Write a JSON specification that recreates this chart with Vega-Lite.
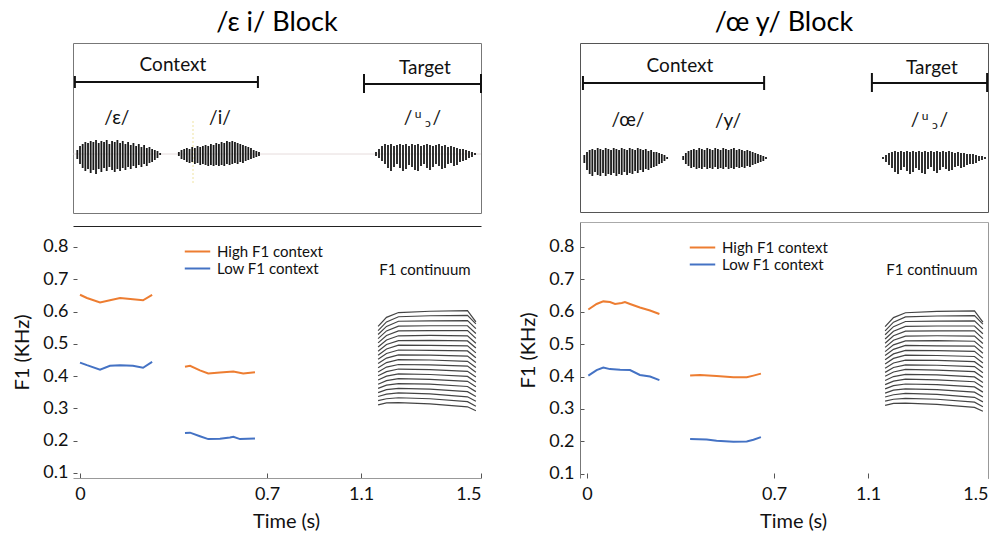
{
  "$schema": "https://vega.github.io/schema/vega-lite/v6.json",
  "padding": {"left": 12, "top": 8, "right": 0, "bottom": 0},
  "config": {
    "font": "Lato",
    "view": {"stroke": null},
    "axis": {"labelFont": "Lato", "titleFont": "Lato", "labelFontSize": 18, "titleFontSize": 20, "titleFontWeight": "normal", "labelColor": "#111", "titleColor": "#111", "grid": false, "tickColor": "#555", "domainColor": "#888"},
    "title": {"font": "Lato", "fontSize": 27, "fontWeight": "normal", "color": "#000"},
    "legend": {"labelFont": "Lato", "labelFontSize": 15, "labelColor": "#111"}
  },
  "datasets": {
    "curves": [
      {"b":"L","ctx":"High F1 context","seg":"a","t":0.0,"f":0.652},
      {"b":"L","ctx":"High F1 context","seg":"a","t":0.026,"f":0.642},
      {"b":"L","ctx":"High F1 context","seg":"a","t":0.075,"f":0.628},
      {"b":"L","ctx":"High F1 context","seg":"a","t":0.112,"f":0.635},
      {"b":"L","ctx":"High F1 context","seg":"a","t":0.15,"f":0.642},
      {"b":"L","ctx":"High F1 context","seg":"a","t":0.198,"f":0.638},
      {"b":"L","ctx":"High F1 context","seg":"a","t":0.236,"f":0.635},
      {"b":"L","ctx":"High F1 context","seg":"a","t":0.27,"f":0.652},
      {"b":"L","ctx":"Low  F1 context","seg":"a","t":0.0,"f":0.442},
      {"b":"L","ctx":"Low  F1 context","seg":"a","t":0.026,"f":0.434},
      {"b":"L","ctx":"Low  F1 context","seg":"a","t":0.075,"f":0.42},
      {"b":"L","ctx":"Low  F1 context","seg":"a","t":0.112,"f":0.432},
      {"b":"L","ctx":"Low  F1 context","seg":"a","t":0.15,"f":0.434},
      {"b":"L","ctx":"Low  F1 context","seg":"a","t":0.198,"f":0.432},
      {"b":"L","ctx":"Low  F1 context","seg":"a","t":0.236,"f":0.426},
      {"b":"L","ctx":"Low  F1 context","seg":"a","t":0.27,"f":0.444},
      {"b":"L","ctx":"High F1 context","seg":"b","t":0.393,"f":0.429},
      {"b":"L","ctx":"High F1 context","seg":"b","t":0.412,"f":0.432},
      {"b":"L","ctx":"High F1 context","seg":"b","t":0.449,"f":0.418},
      {"b":"L","ctx":"High F1 context","seg":"b","t":0.48,"f":0.408},
      {"b":"L","ctx":"High F1 context","seg":"b","t":0.524,"f":0.411},
      {"b":"L","ctx":"High F1 context","seg":"b","t":0.574,"f":0.414},
      {"b":"L","ctx":"High F1 context","seg":"b","t":0.611,"f":0.408},
      {"b":"L","ctx":"High F1 context","seg":"b","t":0.655,"f":0.412},
      {"b":"L","ctx":"Low  F1 context","seg":"b","t":0.393,"f":0.224},
      {"b":"L","ctx":"Low  F1 context","seg":"b","t":0.412,"f":0.225},
      {"b":"L","ctx":"Low  F1 context","seg":"b","t":0.449,"f":0.214},
      {"b":"L","ctx":"Low  F1 context","seg":"b","t":0.48,"f":0.205},
      {"b":"L","ctx":"Low  F1 context","seg":"b","t":0.524,"f":0.206},
      {"b":"L","ctx":"Low  F1 context","seg":"b","t":0.561,"f":0.21},
      {"b":"L","ctx":"Low  F1 context","seg":"b","t":0.574,"f":0.212},
      {"b":"L","ctx":"Low  F1 context","seg":"b","t":0.599,"f":0.205},
      {"b":"L","ctx":"Low  F1 context","seg":"b","t":0.655,"f":0.207},
      {"b":"R","ctx":"High F1 context","seg":"a","t":0.005,"f":0.607},
      {"b":"R","ctx":"High F1 context","seg":"a","t":0.036,"f":0.624},
      {"b":"R","ctx":"High F1 context","seg":"a","t":0.061,"f":0.632},
      {"b":"R","ctx":"High F1 context","seg":"a","t":0.086,"f":0.63},
      {"b":"R","ctx":"High F1 context","seg":"a","t":0.105,"f":0.624},
      {"b":"R","ctx":"High F1 context","seg":"a","t":0.13,"f":0.627},
      {"b":"R","ctx":"High F1 context","seg":"a","t":0.142,"f":0.63},
      {"b":"R","ctx":"High F1 context","seg":"a","t":0.161,"f":0.624},
      {"b":"R","ctx":"High F1 context","seg":"a","t":0.198,"f":0.613},
      {"b":"R","ctx":"High F1 context","seg":"a","t":0.236,"f":0.604},
      {"b":"R","ctx":"High F1 context","seg":"a","t":0.271,"f":0.593},
      {"b":"R","ctx":"Low  F1 context","seg":"a","t":0.005,"f":0.403},
      {"b":"R","ctx":"Low  F1 context","seg":"a","t":0.036,"f":0.42},
      {"b":"R","ctx":"Low  F1 context","seg":"a","t":0.061,"f":0.428},
      {"b":"R","ctx":"Low  F1 context","seg":"a","t":0.086,"f":0.423},
      {"b":"R","ctx":"Low  F1 context","seg":"a","t":0.124,"f":0.421},
      {"b":"R","ctx":"Low  F1 context","seg":"a","t":0.161,"f":0.42},
      {"b":"R","ctx":"Low  F1 context","seg":"a","t":0.198,"f":0.405},
      {"b":"R","ctx":"Low  F1 context","seg":"a","t":0.236,"f":0.4},
      {"b":"R","ctx":"Low  F1 context","seg":"a","t":0.271,"f":0.389},
      {"b":"R","ctx":"High F1 context","seg":"b","t":0.386,"f":0.403},
      {"b":"R","ctx":"High F1 context","seg":"b","t":0.423,"f":0.405},
      {"b":"R","ctx":"High F1 context","seg":"b","t":0.485,"f":0.402},
      {"b":"R","ctx":"High F1 context","seg":"b","t":0.548,"f":0.398},
      {"b":"R","ctx":"High F1 context","seg":"b","t":0.598,"f":0.398},
      {"b":"R","ctx":"High F1 context","seg":"b","t":0.623,"f":0.403},
      {"b":"R","ctx":"High F1 context","seg":"b","t":0.651,"f":0.409},
      {"b":"R","ctx":"Low  F1 context","seg":"b","t":0.386,"f":0.207},
      {"b":"R","ctx":"Low  F1 context","seg":"b","t":0.448,"f":0.206},
      {"b":"R","ctx":"Low  F1 context","seg":"b","t":0.485,"f":0.202},
      {"b":"R","ctx":"Low  F1 context","seg":"b","t":0.548,"f":0.199},
      {"b":"R","ctx":"Low  F1 context","seg":"b","t":0.598,"f":0.2},
      {"b":"R","ctx":"Low  F1 context","seg":"b","t":0.623,"f":0.205},
      {"b":"R","ctx":"Low  F1 context","seg":"b","t":0.651,"f":0.213}
    ],
    "continuum": [
      {"k":0,"t":1.157,"f":0.311},{"k":0,"t":1.185,"f":0.317},{"k":0,"t":1.225,"f":0.318},{"k":0,"t":1.33,"f":0.314},{"k":0,"t":1.455,"f":0.305},{"k":0,"t":1.483,"f":0.293},
      {"k":1,"t":1.157,"f":0.324},{"k":1,"t":1.185,"f":0.33},{"k":1,"t":1.225,"f":0.333},{"k":1,"t":1.33,"f":0.33},{"k":1,"t":1.455,"f":0.321},{"k":1,"t":1.483,"f":0.307},
      {"k":2,"t":1.157,"f":0.337},{"k":2,"t":1.185,"f":0.344},{"k":2,"t":1.225,"f":0.348},{"k":2,"t":1.33,"f":0.345},{"k":2,"t":1.455,"f":0.336},{"k":2,"t":1.483,"f":0.322},
      {"k":3,"t":1.157,"f":0.349},{"k":3,"t":1.185,"f":0.358},{"k":3,"t":1.225,"f":0.362},{"k":3,"t":1.33,"f":0.36},{"k":3,"t":1.455,"f":0.352},{"k":3,"t":1.483,"f":0.337},
      {"k":4,"t":1.157,"f":0.362},{"k":4,"t":1.185,"f":0.372},{"k":4,"t":1.225,"f":0.377},{"k":4,"t":1.33,"f":0.375},{"k":4,"t":1.455,"f":0.368},{"k":4,"t":1.483,"f":0.352},
      {"k":5,"t":1.157,"f":0.375},{"k":5,"t":1.185,"f":0.386},{"k":5,"t":1.225,"f":0.392},{"k":5,"t":1.33,"f":0.39},{"k":5,"t":1.455,"f":0.384},{"k":5,"t":1.483,"f":0.367},
      {"k":6,"t":1.157,"f":0.388},{"k":6,"t":1.185,"f":0.4},{"k":6,"t":1.225,"f":0.407},{"k":6,"t":1.33,"f":0.405},{"k":6,"t":1.455,"f":0.399},{"k":6,"t":1.483,"f":0.382},
      {"k":7,"t":1.157,"f":0.401},{"k":7,"t":1.185,"f":0.414},{"k":7,"t":1.225,"f":0.422},{"k":7,"t":1.33,"f":0.42},{"k":7,"t":1.455,"f":0.415},{"k":7,"t":1.483,"f":0.397},
      {"k":8,"t":1.157,"f":0.413},{"k":8,"t":1.185,"f":0.428},{"k":8,"t":1.225,"f":0.436},{"k":8,"t":1.33,"f":0.435},{"k":8,"t":1.455,"f":0.431},{"k":8,"t":1.483,"f":0.412},
      {"k":9,"t":1.157,"f":0.426},{"k":9,"t":1.185,"f":0.442},{"k":9,"t":1.225,"f":0.451},{"k":9,"t":1.33,"f":0.45},{"k":9,"t":1.455,"f":0.446},{"k":9,"t":1.483,"f":0.427},
      {"k":10,"t":1.157,"f":0.439},{"k":10,"t":1.185,"f":0.456},{"k":10,"t":1.225,"f":0.466},{"k":10,"t":1.33,"f":0.465},{"k":10,"t":1.455,"f":0.462},{"k":10,"t":1.483,"f":0.442},
      {"k":11,"t":1.157,"f":0.452},{"k":11,"t":1.185,"f":0.47},{"k":11,"t":1.225,"f":0.481},{"k":11,"t":1.33,"f":0.48},{"k":11,"t":1.455,"f":0.478},{"k":11,"t":1.483,"f":0.457},
      {"k":12,"t":1.157,"f":0.465},{"k":12,"t":1.185,"f":0.484},{"k":12,"t":1.225,"f":0.496},{"k":12,"t":1.33,"f":0.495},{"k":12,"t":1.455,"f":0.494},{"k":12,"t":1.483,"f":0.472},
      {"k":13,"t":1.157,"f":0.477},{"k":13,"t":1.185,"f":0.498},{"k":13,"t":1.225,"f":0.51},{"k":13,"t":1.33,"f":0.511},{"k":13,"t":1.455,"f":0.509},{"k":13,"t":1.483,"f":0.487},
      {"k":14,"t":1.157,"f":0.49},{"k":14,"t":1.185,"f":0.512},{"k":14,"t":1.225,"f":0.525},{"k":14,"t":1.33,"f":0.526},{"k":14,"t":1.455,"f":0.525},{"k":14,"t":1.483,"f":0.502},
      {"k":15,"t":1.157,"f":0.503},{"k":15,"t":1.185,"f":0.526},{"k":15,"t":1.225,"f":0.54},{"k":15,"t":1.33,"f":0.541},{"k":15,"t":1.455,"f":0.541},{"k":15,"t":1.483,"f":0.517},
      {"k":16,"t":1.157,"f":0.516},{"k":16,"t":1.185,"f":0.54},{"k":16,"t":1.225,"f":0.555},{"k":16,"t":1.33,"f":0.556},{"k":16,"t":1.455,"f":0.556},{"k":16,"t":1.483,"f":0.532},
      {"k":17,"t":1.157,"f":0.529},{"k":17,"t":1.185,"f":0.554},{"k":17,"t":1.225,"f":0.57},{"k":17,"t":1.33,"f":0.571},{"k":17,"t":1.455,"f":0.572},{"k":17,"t":1.483,"f":0.547},
      {"k":18,"t":1.157,"f":0.541},{"k":18,"t":1.185,"f":0.568},{"k":18,"t":1.225,"f":0.584},{"k":18,"t":1.33,"f":0.587},{"k":18,"t":1.455,"f":0.588},{"k":18,"t":1.483,"f":0.562},
      {"k":19,"t":1.157,"f":0.554},{"k":19,"t":1.185,"f":0.582},{"k":19,"t":1.225,"f":0.597},{"k":19,"t":1.33,"f":0.601},{"k":19,"t":1.455,"f":0.603},{"k":19,"t":1.483,"f":0.568}
    ],
    "wave": [
      {"b":"L","t":-0.01,"h":4,"l":-5},{"b":"L","t":0.0,"h":8,"l":-10},{"b":"L","t":0.01,"h":10,"l":-14},{"b":"L","t":0.02,"h":12,"l":-17},{"b":"L","t":0.03,"h":11,"l":-15},{"b":"L","t":0.04,"h":13,"l":-19},{"b":"L","t":0.05,"h":12,"l":-16},{"b":"L","t":0.06,"h":14,"l":-20},{"b":"L","t":0.07,"h":11,"l":-15},{"b":"L","t":0.08,"h":13,"l":-18},{"b":"L","t":0.09,"h":12,"l":-14},{"b":"L","t":0.1,"h":14,"l":-17},{"b":"L","t":0.11,"h":10,"l":-13},{"b":"L","t":0.12,"h":13,"l":-16},{"b":"L","t":0.13,"h":12,"l":-18},{"b":"L","t":0.14,"h":14,"l":-15},{"b":"L","t":0.15,"h":11,"l":-17},{"b":"L","t":0.16,"h":13,"l":-14},{"b":"L","t":0.17,"h":10,"l":-16},{"b":"L","t":0.18,"h":12,"l":-13},{"b":"L","t":0.19,"h":9,"l":-15},{"b":"L","t":0.2,"h":11,"l":-12},{"b":"L","t":0.21,"h":8,"l":-14},{"b":"L","t":0.22,"h":10,"l":-11},{"b":"L","t":0.23,"h":7,"l":-13},{"b":"L","t":0.24,"h":9,"l":-10},{"b":"L","t":0.25,"h":6,"l":-12},{"b":"L","t":0.26,"h":7,"l":-9},{"b":"L","t":0.27,"h":5,"l":-8},{"b":"L","t":0.28,"h":4,"l":-6},{"b":"L","t":0.29,"h":3,"l":-4},{"b":"L","t":0.3,"h":1,"l":-1},
      {"b":"L","t":0.37,"h":2,"l":-2},{"b":"L","t":0.38,"h":4,"l":-5},{"b":"L","t":0.39,"h":5,"l":-6},{"b":"L","t":0.4,"h":6,"l":-8},{"b":"L","t":0.41,"h":5,"l":-9},{"b":"L","t":0.42,"h":7,"l":-8},{"b":"L","t":0.43,"h":6,"l":-10},{"b":"L","t":0.44,"h":8,"l":-9},{"b":"L","t":0.45,"h":7,"l":-11},{"b":"L","t":0.46,"h":8,"l":-10},{"b":"L","t":0.47,"h":9,"l":-11},{"b":"L","t":0.48,"h":8,"l":-12},{"b":"L","t":0.49,"h":10,"l":-11},{"b":"L","t":0.5,"h":9,"l":-12},{"b":"L","t":0.51,"h":11,"l":-11},{"b":"L","t":0.52,"h":10,"l":-12},{"b":"L","t":0.53,"h":12,"l":-11},{"b":"L","t":0.54,"h":11,"l":-12},{"b":"L","t":0.55,"h":13,"l":-10},{"b":"L","t":0.56,"h":12,"l":-11},{"b":"L","t":0.57,"h":13,"l":-10},{"b":"L","t":0.58,"h":12,"l":-9},{"b":"L","t":0.59,"h":11,"l":-10},{"b":"L","t":0.6,"h":10,"l":-8},{"b":"L","t":0.61,"h":9,"l":-9},{"b":"L","t":0.62,"h":8,"l":-7},{"b":"L","t":0.63,"h":7,"l":-6},{"b":"L","t":0.64,"h":6,"l":-5},{"b":"L","t":0.65,"h":4,"l":-4},{"b":"L","t":0.66,"h":3,"l":-3},{"b":"L","t":0.67,"h":2,"l":-2},
      {"b":"L","t":1.15,"h":2,"l":-2},{"b":"L","t":1.16,"h":5,"l":-4},{"b":"L","t":1.17,"h":8,"l":-7},{"b":"L","t":1.18,"h":10,"l":-10},{"b":"L","t":1.19,"h":9,"l":-14},{"b":"L","t":1.2,"h":10,"l":-17},{"b":"L","t":1.21,"h":8,"l":-13},{"b":"L","t":1.22,"h":9,"l":-10},{"b":"L","t":1.23,"h":10,"l":-14},{"b":"L","t":1.24,"h":9,"l":-17},{"b":"L","t":1.25,"h":10,"l":-15},{"b":"L","t":1.26,"h":8,"l":-11},{"b":"L","t":1.27,"h":10,"l":-13},{"b":"L","t":1.28,"h":9,"l":-16},{"b":"L","t":1.29,"h":10,"l":-17},{"b":"L","t":1.3,"h":8,"l":-12},{"b":"L","t":1.31,"h":9,"l":-10},{"b":"L","t":1.32,"h":10,"l":-14},{"b":"L","t":1.33,"h":9,"l":-16},{"b":"L","t":1.34,"h":8,"l":-13},{"b":"L","t":1.35,"h":9,"l":-10},{"b":"L","t":1.36,"h":10,"l":-12},{"b":"L","t":1.37,"h":8,"l":-15},{"b":"L","t":1.38,"h":9,"l":-14},{"b":"L","t":1.39,"h":7,"l":-10},{"b":"L","t":1.4,"h":8,"l":-9},{"b":"L","t":1.41,"h":7,"l":-12},{"b":"L","t":1.42,"h":6,"l":-11},{"b":"L","t":1.43,"h":5,"l":-8},{"b":"L","t":1.44,"h":5,"l":-7},{"b":"L","t":1.45,"h":4,"l":-6},{"b":"L","t":1.46,"h":3,"l":-4},{"b":"L","t":1.47,"h":2,"l":-3},{"b":"L","t":1.48,"h":1,"l":-1},
      {"b":"R","t":-0.01,"h":3,"l":-5},{"b":"R","t":0.0,"h":6,"l":-12},{"b":"R","t":0.01,"h":8,"l":-16},{"b":"R","t":0.02,"h":9,"l":-18},{"b":"R","t":0.03,"h":8,"l":-14},{"b":"R","t":0.04,"h":10,"l":-17},{"b":"R","t":0.05,"h":9,"l":-18},{"b":"R","t":0.06,"h":8,"l":-15},{"b":"R","t":0.07,"h":10,"l":-18},{"b":"R","t":0.08,"h":9,"l":-16},{"b":"R","t":0.09,"h":8,"l":-17},{"b":"R","t":0.1,"h":10,"l":-15},{"b":"R","t":0.11,"h":9,"l":-18},{"b":"R","t":0.12,"h":8,"l":-16},{"b":"R","t":0.13,"h":10,"l":-17},{"b":"R","t":0.14,"h":9,"l":-14},{"b":"R","t":0.15,"h":8,"l":-17},{"b":"R","t":0.16,"h":10,"l":-15},{"b":"R","t":0.17,"h":9,"l":-16},{"b":"R","t":0.18,"h":8,"l":-13},{"b":"R","t":0.19,"h":10,"l":-15},{"b":"R","t":0.2,"h":9,"l":-12},{"b":"R","t":0.21,"h":8,"l":-14},{"b":"R","t":0.22,"h":9,"l":-11},{"b":"R","t":0.23,"h":7,"l":-12},{"b":"R","t":0.24,"h":8,"l":-10},{"b":"R","t":0.25,"h":6,"l":-9},{"b":"R","t":0.26,"h":6,"l":-8},{"b":"R","t":0.27,"h":5,"l":-6},{"b":"R","t":0.28,"h":4,"l":-5},{"b":"R","t":0.29,"h":3,"l":-3},{"b":"R","t":0.3,"h":1,"l":-1},
      {"b":"R","t":0.36,"h":2,"l":-2},{"b":"R","t":0.37,"h":5,"l":-6},{"b":"R","t":0.38,"h":7,"l":-8},{"b":"R","t":0.39,"h":8,"l":-10},{"b":"R","t":0.4,"h":9,"l":-9},{"b":"R","t":0.41,"h":8,"l":-11},{"b":"R","t":0.42,"h":10,"l":-10},{"b":"R","t":0.43,"h":9,"l":-11},{"b":"R","t":0.44,"h":8,"l":-9},{"b":"R","t":0.45,"h":10,"l":-11},{"b":"R","t":0.46,"h":9,"l":-10},{"b":"R","t":0.47,"h":8,"l":-11},{"b":"R","t":0.48,"h":10,"l":-9},{"b":"R","t":0.49,"h":9,"l":-11},{"b":"R","t":0.5,"h":8,"l":-10},{"b":"R","t":0.51,"h":10,"l":-11},{"b":"R","t":0.52,"h":9,"l":-9},{"b":"R","t":0.53,"h":8,"l":-11},{"b":"R","t":0.54,"h":9,"l":-10},{"b":"R","t":0.55,"h":10,"l":-11},{"b":"R","t":0.56,"h":8,"l":-9},{"b":"R","t":0.57,"h":9,"l":-10},{"b":"R","t":0.58,"h":8,"l":-9},{"b":"R","t":0.59,"h":7,"l":-10},{"b":"R","t":0.6,"h":8,"l":-8},{"b":"R","t":0.61,"h":7,"l":-9},{"b":"R","t":0.62,"h":6,"l":-7},{"b":"R","t":0.63,"h":5,"l":-6},{"b":"R","t":0.64,"h":4,"l":-5},{"b":"R","t":0.65,"h":3,"l":-4},{"b":"R","t":0.66,"h":2,"l":-3},{"b":"R","t":0.67,"h":1,"l":-1},
      {"b":"R","t":1.15,"h":1,"l":-1},{"b":"R","t":1.16,"h":3,"l":-4},{"b":"R","t":1.17,"h":5,"l":-7},{"b":"R","t":1.18,"h":6,"l":-10},{"b":"R","t":1.19,"h":7,"l":-14},{"b":"R","t":1.2,"h":6,"l":-16},{"b":"R","t":1.21,"h":7,"l":-12},{"b":"R","t":1.22,"h":6,"l":-9},{"b":"R","t":1.23,"h":7,"l":-13},{"b":"R","t":1.24,"h":6,"l":-16},{"b":"R","t":1.25,"h":7,"l":-14},{"b":"R","t":1.26,"h":6,"l":-10},{"b":"R","t":1.27,"h":7,"l":-12},{"b":"R","t":1.28,"h":6,"l":-15},{"b":"R","t":1.29,"h":7,"l":-16},{"b":"R","t":1.3,"h":6,"l":-11},{"b":"R","t":1.31,"h":7,"l":-9},{"b":"R","t":1.32,"h":6,"l":-13},{"b":"R","t":1.33,"h":7,"l":-15},{"b":"R","t":1.34,"h":6,"l":-12},{"b":"R","t":1.35,"h":7,"l":-9},{"b":"R","t":1.36,"h":6,"l":-11},{"b":"R","t":1.37,"h":7,"l":-13},{"b":"R","t":1.38,"h":6,"l":-12},{"b":"R","t":1.39,"h":5,"l":-9},{"b":"R","t":1.4,"h":6,"l":-8},{"b":"R","t":1.41,"h":5,"l":-10},{"b":"R","t":1.42,"h":5,"l":-9},{"b":"R","t":1.43,"h":4,"l":-7},{"b":"R","t":1.44,"h":4,"l":-6},{"b":"R","t":1.45,"h":4,"l":-6},{"b":"R","t":1.46,"h":3,"l":-5},{"b":"R","t":1.47,"h":2,"l":-3},{"b":"R","t":1.48,"h":2,"l":-2},{"b":"R","t":1.49,"h":1,"l":-1}
    ],
    "labels": [
      {"b":"L","k":"main","txt":"Context","t":0.348,"lv":89},
      {"b":"L","k":"main","txt":"Target","t":1.313,"lv":86},
      {"b":"L","k":"main","txt":"/ε/","t":0.138,"lv":36},
      {"b":"L","k":"main","txt":"/i/","t":0.524,"lv":36},
      {"b":"L","k":"main","txt":"/","t":1.257,"lv":36},
      {"b":"L","k":"main","txt":"/","t":1.353,"lv":36},
      {"b":"L","k":"sup","txt":"u","t":1.29,"lv":40},
      {"b":"L","k":"sub","txt":"ɔ","t":1.323,"lv":31},
      {"b":"R","k":"main","txt":"Context","t":0.348,"lv":92},
      {"b":"R","k":"main","txt":"Target","t":1.313,"lv":90},
      {"b":"R","k":"main","txt":"/œ/","t":0.153,"lv":38},
      {"b":"R","k":"main","txt":"/y/","t":0.528,"lv":37},
      {"b":"R","k":"main","txt":"/","t":1.257,"lv":38},
      {"b":"R","k":"main","txt":"/","t":1.353,"lv":38},
      {"b":"R","k":"sup","txt":"u","t":1.29,"lv":42},
      {"b":"R","k":"sub","txt":"ɔ","t":1.323,"lv":33}
    ],
    "brackets": [
      {"b":"L","name":"Context","t1":-0.019,"t2":0.666,"lv":72,"lo":66,"hi":78},
      {"b":"L","name":"Target","t1":1.11,"t2":1.5,"lv":70,"lo":61,"hi":80},
      {"b":"R","name":"Context","t1":-0.015,"t2":0.663,"lv":75,"lo":68,"hi":82},
      {"b":"R","name":"Target","t1":1.113,"t2":1.497,"lv":75,"lo":66,"hi":85}
    ]
  },
  "spacing": 35,
  "resolve": {"scale": {"color": "independent"}, "legend": {"color": "independent"}},
  "hconcat": [
    {
      "spacing": 12,
      "vconcat": [
        {
          "width": 408, "height": 170,
          "title": {"text": "/ε i/ Block", "anchor": "middle", "frame": "group", "offset": 6},
          "view": {"stroke": "#777"},
          "layer": [
            {
              "data": {"values": [{"line": "baseline"}]},
              "mark": {"type": "rule", "color": "#e6dcdc", "strokeWidth": 1},
              "encoding": {
                "x": {"datum": -0.024, "type": "quantitative", "scale": {"domain": [-0.026, 0, 0.7, 1.1, 1.5], "range": [0, 7, 194, 288, 408], "nice": false, "zero": false}, "axis": null},
                "x2": {"datum": 1.5},
                "y": {"datum": 0, "type": "quantitative", "scale": {"domain": [-59, 111], "nice": false, "zero": false}, "axis": null}
              }
            },
            {
              "data": {"values": [{"line": "marker"}]},
              "mark": {"type": "rule", "color": "#efe3a0", "strokeWidth": 1, "strokeDash": [2, 2]},
              "encoding": {
                "x": {"datum": 0.423, "type": "quantitative", "axis": null},
                "y": {"datum": 33, "type": "quantitative", "axis": null},
                "y2": {"datum": -30}
              }
            },
            {
              "data": {"name": "wave"},
              "transform": [{"filter": "datum.b == 'L'"}],
              "mark": {"type": "rule", "color": "#1a1a1a", "strokeWidth": 1.8},
              "encoding": {
                "x": {"field": "t", "type": "quantitative", "axis": null},
                "y": {"field": "h", "type": "quantitative", "axis": null},
                "y2": {"field": "l"}
              }
            },
            {
              "data": {"name": "brackets"},
              "transform": [{"filter": "datum.b == 'L'"}],
              "mark": {"type": "rule", "color": "#111", "strokeWidth": 2},
              "encoding": {
                "x": {"field": "t1", "type": "quantitative", "axis": null},
                "x2": {"field": "t2"},
                "y": {"field": "lv", "type": "quantitative", "axis": null}
              }
            },
            {
              "data": {"name": "brackets"},
              "transform": [{"filter": "datum.b == 'L'"}],
              "mark": {"type": "rule", "color": "#111", "strokeWidth": 2},
              "encoding": {
                "x": {"field": "t1", "type": "quantitative", "axis": null},
                "y": {"field": "lo", "type": "quantitative", "axis": null},
                "y2": {"field": "hi"}
              }
            },
            {
              "data": {"name": "brackets"},
              "transform": [{"filter": "datum.b == 'L'"}],
              "mark": {"type": "rule", "color": "#111", "strokeWidth": 2},
              "encoding": {
                "x": {"field": "t2", "type": "quantitative", "axis": null},
                "y": {"field": "lo", "type": "quantitative", "axis": null},
                "y2": {"field": "hi"}
              }
            },
            {
              "data": {"name": "labels"},
              "transform": [{"filter": "datum.b == 'L' && datum.k == 'main'"}],
              "mark": {"type": "text", "fontSize": 19, "color": "#111", "baseline": "middle", "font": "Lato"},
              "encoding": {
                "x": {"field": "t", "type": "quantitative", "axis": null},
                "y": {"field": "lv", "type": "quantitative", "axis": null},
                "text": {"field": "txt"}
              }
            },
            {
              "data": {"name": "labels"},
              "transform": [{"filter": "datum.b == 'L' && datum.k != 'main'"}],
              "mark": {"type": "text", "fontSize": 12, "color": "#111", "baseline": "middle", "font": "Lato"},
              "encoding": {
                "x": {"field": "t", "type": "quantitative", "axis": null},
                "y": {"field": "lv", "type": "quantitative", "axis": null},
                "text": {"field": "txt"}
              }
            }
          ]
        },
        {
          "width": 408, "height": 252,
          "resolve": {"axis": {"x": "independent", "y": "independent"}},
          "layer": [
            {
              "data": {"name": "curves"},
              "transform": [{"filter": "datum.b == 'L'"}],
              "mark": {"type": "line", "strokeWidth": 2},
              "encoding": {
                "x": {"field": "t", "type": "quantitative", "scale": {"domain": [-0.026, 0, 0.7, 1.1, 1.5], "range": [0, 7, 194, 288, 408], "nice": false, "zero": false},
                      "axis": {"orient": "bottom", "values": [0, 0.7, 1.1, 1.5], "title": "Time (s)", "domain": true, "domainColor": "#999", "tickSize": -5, "labelPadding": 12, "titlePadding": 8, "titleX": 213, "format": "~g"}},
                "y": {"field": "f", "type": "quantitative", "scale": {"domain": [0.0845, 0.865], "nice": false, "zero": false},
                      "axis": {"orient": "left", "values": [0.1, 0.2, 0.3, 0.4, 0.5, 0.6, 0.7, 0.8], "format": ".1f", "title": "F1 (KHz)", "domain": false, "tickSize": -4, "labelPadding": 9, "titlePadding": 10}},
                "color": {"field": "ctx", "type": "nominal", "scale": {"domain": ["High F1 context", "Low  F1 context"], "range": ["#ED7D31", "#4472C4"]},
                          "legend": {"orient": "none", "legendX": 116, "legendY": 200, "title": null, "symbolType": "M-1.8,0H1.8", "symbolStrokeWidth": 2, "symbolSize": 200, "labelFontSize": 15, "rowPadding": 0, "labelOffset": 11}},
                "detail": {"field": "seg"}
              }
            },
            {
              "data": {"name": "continuum"},
              "mark": {"type": "line", "strokeWidth": 1.2, "color": "#444"},
              "encoding": {
                "x": {"field": "t", "type": "quantitative", "axis": {"orient": "top", "labels": false, "ticks": false, "title": null, "domain": true, "domainColor": "#222"}},
                "y": {"field": "f", "type": "quantitative", "axis": null},
                "detail": {"field": "k"}
              }
            },
            {
              "data": {"values": [{"label": "F1 continuum"}]},
              "mark": {"type": "text", "fontSize": 15, "color": "#111", "font": "Lato"},
              "encoding": {
                "x": {"datum": 1.313, "type": "quantitative", "axis": null},
                "y": {"datum": 0.729, "type": "quantitative", "axis": null},
                "text": {"field": "label"}
              }
            }
          ]
        }
      ]
    },
    {
      "spacing": 9,
      "vconcat": [
        {
          "width": 408, "height": 169,
          "title": {"text": "/œ y/ Block", "anchor": "middle", "frame": "group", "offset": 6},
          "view": {"stroke": "#555"},
          "layer": [
            {
              "data": {"name": "wave"},
              "transform": [{"filter": "datum.b == 'R'"}],
              "mark": {"type": "rule", "color": "#1a1a1a", "strokeWidth": 1.8},
              "encoding": {
                "x": {"field": "t", "type": "quantitative", "scale": {"domain": [-0.026, 0, 0.7, 1.1, 1.5], "range": [0, 7, 194, 288, 408], "nice": false, "zero": false}, "axis": null},
                "y": {"field": "h", "type": "quantitative", "scale": {"domain": [-54, 115], "nice": false, "zero": false}, "axis": null},
                "y2": {"field": "l"}
              }
            },
            {
              "data": {"name": "brackets"},
              "transform": [{"filter": "datum.b == 'R'"}],
              "mark": {"type": "rule", "color": "#111", "strokeWidth": 2},
              "encoding": {
                "x": {"field": "t1", "type": "quantitative", "axis": null},
                "x2": {"field": "t2"},
                "y": {"field": "lv", "type": "quantitative", "axis": null}
              }
            },
            {
              "data": {"name": "brackets"},
              "transform": [{"filter": "datum.b == 'R'"}],
              "mark": {"type": "rule", "color": "#111", "strokeWidth": 2},
              "encoding": {
                "x": {"field": "t1", "type": "quantitative", "axis": null},
                "y": {"field": "lo", "type": "quantitative", "axis": null},
                "y2": {"field": "hi"}
              }
            },
            {
              "data": {"name": "brackets"},
              "transform": [{"filter": "datum.b == 'R'"}],
              "mark": {"type": "rule", "color": "#111", "strokeWidth": 2},
              "encoding": {
                "x": {"field": "t2", "type": "quantitative", "axis": null},
                "y": {"field": "lo", "type": "quantitative", "axis": null},
                "y2": {"field": "hi"}
              }
            },
            {
              "data": {"name": "labels"},
              "transform": [{"filter": "datum.b == 'R' && datum.k == 'main'"}],
              "mark": {"type": "text", "fontSize": 19, "color": "#111", "baseline": "middle", "font": "Lato"},
              "encoding": {
                "x": {"field": "t", "type": "quantitative", "axis": null},
                "y": {"field": "lv", "type": "quantitative", "axis": null},
                "text": {"field": "txt"}
              }
            },
            {
              "data": {"name": "labels"},
              "transform": [{"filter": "datum.b == 'R' && datum.k != 'main'"}],
              "mark": {"type": "text", "fontSize": 12, "color": "#111", "baseline": "middle", "font": "Lato"},
              "encoding": {
                "x": {"field": "t", "type": "quantitative", "axis": null},
                "y": {"field": "lv", "type": "quantitative", "axis": null},
                "text": {"field": "txt"}
              }
            }
          ]
        },
        {
          "width": 408, "height": 256,
          "resolve": {"axis": {"x": "independent", "y": "independent"}},
          "layer": [
            {
              "data": {"name": "curves"},
              "transform": [{"filter": "datum.b == 'R'"}],
              "mark": {"type": "line", "strokeWidth": 2},
              "encoding": {
                "x": {"field": "t", "type": "quantitative", "scale": {"domain": [-0.026, 0, 0.7, 1.1, 1.5], "range": [0, 7, 194, 288, 408], "nice": false, "zero": false},
                      "axis": {"orient": "bottom", "values": [0, 0.7, 1.1, 1.5], "title": "Time (s)", "domain": false, "tickSize": -5, "labelPadding": 12, "titlePadding": 8, "titleX": 213, "format": "~g"}},
                "y": {"field": "f", "type": "quantitative", "scale": {"domain": [0.087, 0.877], "nice": false, "zero": false},
                      "axis": {"orient": "left", "values": [0.1, 0.2, 0.3, 0.4, 0.5, 0.6, 0.7, 0.8], "format": ".1f", "title": "F1 (KHz)", "domain": true, "domainColor": "#777", "tickSize": -4, "labelPadding": 10, "titlePadding": 10}},
                "color": {"field": "ctx", "type": "nominal", "scale": {"domain": ["High F1 context", "Low  F1 context"], "range": ["#ED7D31", "#4472C4"]},
                          "legend": {"orient": "none", "legendX": 114, "legendY": 196, "title": null, "symbolType": "M-1.8,0H1.8", "symbolStrokeWidth": 2, "symbolSize": 200, "labelFontSize": 15, "rowPadding": 0, "labelOffset": 11}},
                "detail": {"field": "seg"}
              }
            },
            {
              "data": {"name": "continuum"},
              "mark": {"type": "line", "strokeWidth": 1.2, "color": "#444"},
              "encoding": {
                "x": {"field": "t", "type": "quantitative", "axis": {"orient": "top", "labels": false, "ticks": false, "title": null, "domain": true, "domainColor": "#aaa"}},
                "y": {"field": "f", "type": "quantitative", "axis": {"orient": "right", "labels": false, "ticks": false, "title": null, "domain": true, "domainColor": "#999"}},
                "detail": {"field": "k"}
              }
            },
            {
              "data": {"values": [{"label": "F1 continuum"}]},
              "mark": {"type": "text", "fontSize": 15, "color": "#111", "font": "Lato"},
              "encoding": {
                "x": {"datum": 1.313, "type": "quantitative", "axis": null},
                "y": {"datum": 0.729, "type": "quantitative", "axis": null},
                "text": {"field": "label"}
              }
            }
          ]
        }
      ]
    }
  ]
}
